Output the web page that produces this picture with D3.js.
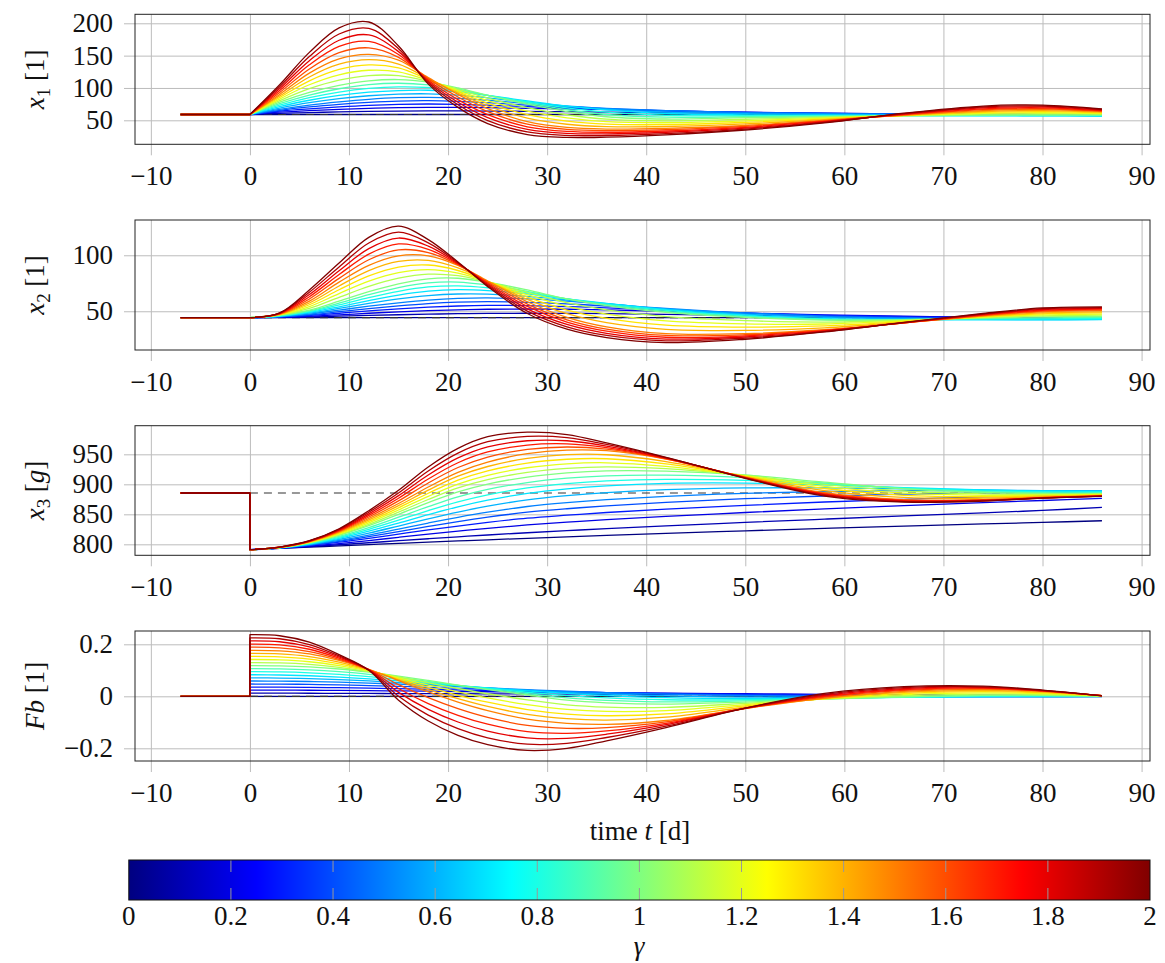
<!DOCTYPE html>
<html><head><meta charset="utf-8">
<script src="https://cdn.jsdelivr.net/npm/d3@7"></script>
<style>
body{margin:0;background:#fff}
svg{display:block}
text{font-family:"Liberation Serif","Times New Roman",serif;fill:#111}
</style>
</head><body>
<svg id="chart" width="1165" height="963"></svg>
<script>
// ---------------- DATA ----------------
const times = [0, 3, 6, 9, 12, 15, 18, 21, 24, 28, 32, 36, 42, 50, 58, 66, 74, 80, 86];
const gammas = [0, 0.1, 0.2, 0.3, 0.4, 0.5, 0.6, 0.7, 0.8, 0.9, 1.0, 1.1, 1.2, 1.3, 1.4, 1.5, 1.6, 1.7, 1.8, 1.9, 2.0];
const tStart = -7;
const xTicks = [-10, 0, 10, 20, 30, 40, 50, 60, 70, 80, 90];
const x1Ticks = [50, 100, 150, 200];
const x2Ticks = [50, 100];
const x3Ticks = [800, 850, 900, 950];
const fbTicks = [-0.2, 0, 0.2];
const fbTickLabels = ["\u22120.2", "0", "0.2"];
const cbTicks = [0, 0.2, 0.4, 0.6, 0.8, 1, 1.2, 1.4, 1.6, 1.8, 2];
const cbTickLabels = ["0", "0.2", "0.4", "0.6", "0.8", "1", "1.2", "1.4", "1.6", "1.8", "2"];

const x1Init = 59, x2Init = 44.3, x3Init = 885.5, fbInit = 0;
const x1Ref = 59, x2Ref = 44.3, x3Ref = 885.5, fbRef = 0;

const x1Values = [
[59,59,59,59,59,59,59,59,59,59,59,59,59,59,59,59,59,59,59],
[59,60.8,62,63,63.8,64.3,64.5,64.5,64.3,63.8,63.3,62.8,61.8,60.8,60,59.5,59.2,58.9,58.6],
[59,62.5,65,67,68.5,69.5,70,70,69.5,68.5,67.5,66.5,64.5,62.5,61,60,59.3,58.8,58.3],
[59,64.2,67.8,70.8,73.2,74.7,75.2,74.7,73.3,71,69,67.2,64.7,62.3,60.8,59.8,59,58.5,58],
[59,65.5,70.7,74.7,77.8,79.8,80.3,79.3,77.2,73.5,70.5,67.8,64.8,62.2,60.7,59.7,58.8,58.2,57.7],
[59,67,73.5,78.5,82.5,85,85.5,84,81,76,72,68.5,65,62,60.5,59.5,58.5,57.8,57.3],
[59,69,77.3,83.5,88,90.5,91,89,84.8,78,72,67.3,62.8,60.3,59.3,58.5,57.8,57.3,57],
[59,71,81,88.5,93.5,96,96.5,94,88.5,80,72,66,60.5,58.5,58,57.5,57,56.8,56.6],
[59,73.3,85,93.7,99.3,101.7,100.7,96,88.5,78.3,69.2,62.5,57.7,57,57.2,57.3,57.3,57.4,57.2],
[59,75.7,89,98.8,105.2,107.3,104.8,98,88.5,76.7,66.3,59,54.8,55.5,56.3,57.2,57.7,57.9,57.9],
[59,78,93,104,111,113,109,100,88.5,75,63.5,55.5,52,54,55.5,57,58,58.5,58.5],
[59,80.4,99,112.2,119.2,119,110.4,98,84.4,69.6,58.6,51.7,49.1,51.6,54.4,57.2,59.4,60.1,59.5],
[59,82.8,105,120.4,127.4,125,111.8,96,80.3,64.2,53.7,47.9,46.2,49.2,53.3,57.4,60.8,61.7,60.5],
[59,85.2,111,128.6,135.6,131,113.2,94,76.2,58.8,48.8,44.1,43.3,46.8,52.2,57.6,62.2,63.3,61.5],
[59,87.6,117,136.8,143.8,137,114.6,92,72.1,53.4,43.9,40.3,40.4,44.4,51.1,57.8,63.6,64.9,62.5],
[59,90,123,145,152,143,116,90,68,48,39,36.5,37.5,42,50,58,65,66.5,63.5],
[59,93,129.4,154.6,162,147.4,114,86,63.4,44,35.9,34,35.5,40.6,49.2,58.6,66.4,67.9,64.3],
[59,96,135.8,164.2,172,151.8,112,82,58.8,40,32.8,31.5,33.5,39.2,48.4,59.2,67.8,69.3,65.1],
[59,99,142.2,173.8,182,156.2,110,78,54.2,36,29.7,29,31.5,37.8,47.6,59.8,69.2,70.7,65.9],
[59,102,148.6,183.4,192,160.6,108,74,49.6,32,26.6,26.5,29.5,36.4,46.8,60.4,70.6,72.1,66.7],
[59,105,155,193,202,165,106,70,45,28,23.5,24,27.5,35,46,61,72,73.5,67.5]
];

const x2Values = [
[44.3,44.3,44.3,44.3,44.3,44.3,44.3,44.3,44.3,44.3,44.3,44.3,44.3,44.3,44.3,44.3,44.3,44.3,44.3],
[44.3,44.5,44.9,45.6,46.3,46.9,47.4,47.8,48.1,48.2,48.1,47.8,47.2,46.3,45.6,45,44.5,44.3,44],
[44.3,44.7,45.5,46.8,48.2,49.5,50.5,51.3,51.8,52,51.8,51.2,50,48.3,46.8,45.6,44.7,44.2,43.8],
[44.3,44.9,46.2,48.2,50.3,52.2,53.7,54.7,55.2,55,54.2,53,50.8,48.4,46.4,45.1,44.1,43.7,43.5],
[44.3,45.1,46.8,49.6,52.4,54.8,56.8,58.1,58.6,58,56.6,54.7,51.7,48.4,45.9,44.5,43.6,43.3,43.1],
[44.3,45.3,47.5,51,54.5,57.5,60,61.5,62,61,59,56.5,52.5,48.5,45.5,44,43,42.8,42.8],
[44.3,45.5,48.3,52.5,57,61,64,65.4,65.3,63.3,60,56.8,52,47.5,44.5,43.3,42.7,42.6,42.7],
[44.3,45.7,49,54,59.5,64.5,68,69.3,68.5,65.5,61,57,51.5,46.5,43.5,42.5,42.3,42.3,42.5],
[44.3,46,49.7,55.7,62.2,67.8,71.7,72.7,71,66.7,61,56.3,50.7,45.8,43,42.5,42.9,43.2,43.5],
[44.3,46.2,50.3,57.3,64.8,71.2,75.3,76.1,73.5,67.8,61,55.7,49.8,45.2,42.5,42.5,43.4,44.1,44.5],
[44.3,46.5,51,59,67.5,74.5,79,79.5,76,69,61,55,49,44.5,42,42.5,44,45,45.5],
[44.3,46.7,52.6,62.4,72.2,79.5,83.1,81.8,76.2,66.9,57.7,51.2,45.2,41.6,40.3,41.9,44.4,45.9,46.5],
[44.3,46.9,54.2,65.8,76.9,84.5,87.2,84.1,76.4,64.8,54.4,47.4,41.4,38.7,38.6,41.3,44.8,46.8,47.5],
[44.3,47.1,55.8,69.2,81.6,89.5,91.3,86.4,76.6,62.7,51.1,43.6,37.6,35.8,36.9,40.7,45.2,47.7,48.5],
[44.3,47.3,57.4,72.6,86.3,94.5,95.4,88.7,76.8,60.6,47.8,39.8,33.8,32.9,35.2,40.1,45.6,48.6,49.5],
[44.3,47.5,59,76,91,99.5,99.5,91,77,58.5,44.5,36,30,30,33.5,39.5,46,49.5,50.5],
[44.3,47.7,61,79.4,96,104.8,102.4,91.6,76,56.4,42.4,34.1,28.4,29,33.1,39.6,46.4,50.2,51.2],
[44.3,47.9,63,82.8,101,110.1,105.3,92.2,75,54.3,40.3,32.2,26.8,28,32.7,39.7,46.8,50.9,51.9],
[44.3,48.1,65,86.2,106,115.4,108.2,92.8,74,52.2,38.2,30.3,25.2,27,32.3,39.8,47.2,51.6,52.6],
[44.3,48.3,67,89.6,111,120.7,111.1,93.4,73,50.1,36.1,28.4,23.6,26,31.9,39.9,47.6,52.3,53.3],
[44.3,48.5,69,93,116,126,114,94,72,48,34,26.5,22,25,31.5,40,48,53,54]
];

const x3Values = [
[791,793.2,795.3,797.4,799.5,801.6,803.6,805.6,807.5,810,812.4,814.8,818.2,822.5,826.5,830.3,834,836.5,839.3],
[791,793.4,796.2,799.3,802.6,806,809.3,812.5,815.5,819.3,822.8,826,830.7,836.5,842,847.5,852.5,856.5,861.5],
[791,793.6,797,801.3,806.3,811.7,817,822,826.7,832.3,837,841,846.5,853,859,864.5,869.5,873,876.5],
[791,793.8,798,803.5,810,817,824,830.5,836.5,843.5,848.5,853,858.5,865,870.5,875,879,881.5,884],
[791,793.9,798.7,805,812.7,821.2,829.8,838,845.3,853.5,859.3,864,869.8,876,880.5,883.5,885.5,886.3,886.8],
[791,794,799.3,806.5,815.5,825.5,835.5,845,853.5,863,869.5,874.5,880,885,888,889.5,889.5,889.2,889],
[791,794.1,799.9,808.2,818.7,830.5,842.5,853.8,863.5,874,881,886,891,894,894,892.5,890.5,889.5,889],
[791,794.3,800.5,810,822,835.5,849.5,862.5,873.5,885,892.5,897.5,901.5,902,899,894.5,890.5,889,888],
[791,794.4,801.2,811.7,825,840.3,856.2,870.8,882.5,894,901.3,905.8,908.3,906.5,900.5,893.8,889.2,887.5,886.8],
[791,794.4,801.8,813.3,828,845.2,862.8,879.2,891.5,903,910.2,914.2,915.2,911,902,893.2,887.8,886,885.7],
[791,794.5,802.5,815,831,850,869.5,887.5,900.5,912,919,922.5,922,915.5,903.5,892.5,886.5,884.5,884.5],
[791,794.6,802.9,816.2,833.4,853.6,874.7,894,907.8,919.8,926.6,929.2,926,914.8,900,888.9,884.1,883.2,883.8],
[791,794.7,803.3,817.4,835.8,857.2,879.9,900.5,915.1,927.6,934.2,935.9,930,914.1,896.5,885.3,881.7,881.9,883.1],
[791,794.8,803.7,818.6,838.2,860.8,885.1,907,922.4,935.4,941.8,942.6,934,913.4,893,881.7,879.3,880.6,882.4],
[791,794.9,804.1,819.8,840.6,864.4,890.3,913.5,929.7,943.2,949.4,949.3,938,912.7,889.5,878.1,876.9,879.3,881.7],
[791,795,804.5,821,843,868,895.5,920,937,951,957,956,942,912,886,874.5,874.5,878,881],
[791,795.1,804.8,822,845.6,872.4,902.2,928,945.5,958.2,962.2,958.6,942.6,911.6,884.9,873.7,874,877.8,880.8],
[791,795.2,805.1,823,848.2,876.8,908.9,936,954,965.4,967.4,961.2,943.2,911.2,883.8,872.9,873.5,877.6,880.6],
[791,795.3,805.4,824,850.8,881.2,915.6,944,962.5,972.6,972.6,963.8,943.8,910.8,882.7,872.1,873,877.4,880.4],
[791,795.4,805.7,825,853.4,885.6,922.3,952,971,979.8,977.8,966.4,944.4,910.4,881.6,871.3,872.5,877.2,880.2],
[791,795.5,806,826,856,890,929,960,979.5,987,983,969,945,910,880.5,870.5,872,877,880]
];

const fbValues = [
[0,0,0,0,0,0,0,0,0,0,0,0,0,0,0,0,0,0,0],
[0.012,0.012,0.0118,0.0115,0.0111,0.0107,0.0103,0.0099,0.0095,0.009,0.0085,0.008,0.0072,0.0062,0.0053,0.0045,0.0038,0.0033,0.0028],
[0.024,0.0238,0.0233,0.0225,0.0216,0.0206,0.0196,0.0186,0.0176,0.0163,0.015,0.0138,0.012,0.0098,0.0078,0.006,0.0045,0.0035,0.0026],
[0.0357,0.0354,0.0345,0.0332,0.0314,0.0293,0.0271,0.0247,0.0224,0.0194,0.0165,0.014,0.0108,0.0075,0.0052,0.0035,0.0023,0.0017,0.0012],
[0.0473,0.0469,0.0458,0.0438,0.0412,0.0381,0.0345,0.0309,0.0272,0.0224,0.018,0.0143,0.0097,0.0053,0.0026,0.001,0.0002,-0.0002,-0.0001],
[0.059,0.0585,0.057,0.0545,0.051,0.0468,0.042,0.037,0.032,0.0255,0.0195,0.0145,0.0085,0.003,0.0,-0.0015,-0.002,-0.002,-0.0015],
[0.071,0.0703,0.068,0.0643,0.059,0.0529,0.046,0.039,0.032,0.0233,0.0153,0.0088,0.0018,-0.003,-0.0035,-0.0028,-0.0015,-0.001,-0.0008],
[0.083,0.082,0.079,0.074,0.067,0.059,0.05,0.041,0.032,0.021,0.011,0.003,-0.005,-0.009,-0.007,-0.004,-0.001,0.0,0.0],
[0.0947,0.0937,0.0903,0.0843,0.0757,0.0653,0.0537,0.0417,0.03,0.0157,0.0023,-0.0063,-0.0133,-0.0133,-0.0083,-0.0033,0.0007,0.0013,0.0003],
[0.1063,0.1053,0.1017,0.0947,0.0843,0.0717,0.0573,0.0423,0.028,0.0103,-0.0063,-0.0157,-0.0217,-0.0177,-0.0097,-0.0027,0.0023,0.0027,0.0007],
[0.118,0.117,0.113,0.105,0.093,0.078,0.061,0.043,0.026,0.005,-0.015,-0.025,-0.03,-0.022,-0.011,-0.002,0.004,0.004,0.001],
[0.1298,0.1286,0.123,0.1116,0.0952,0.0744,0.0522,0.03,0.0098,-0.0136,-0.0328,-0.0416,-0.0426,-0.027,-0.0102,0.0022,0.0086,0.007,0.0014],
[0.1416,0.1402,0.133,0.1182,0.0974,0.0708,0.0434,0.017,-0.0064,-0.0322,-0.0506,-0.0582,-0.0552,-0.032,-0.0094,0.0064,0.0132,0.01,0.0018],
[0.1534,0.1518,0.143,0.1248,0.0996,0.0672,0.0346,0.004,-0.0226,-0.0508,-0.0684,-0.0748,-0.0678,-0.037,-0.0086,0.0106,0.0178,0.013,0.0022],
[0.1652,0.1634,0.153,0.1314,0.1018,0.0636,0.0258,-0.009,-0.0388,-0.0694,-0.0862,-0.0914,-0.0804,-0.042,-0.0078,0.0148,0.0224,0.016,0.0026],
[0.177,0.175,0.163,0.138,0.104,0.06,0.017,-0.022,-0.055,-0.088,-0.104,-0.108,-0.093,-0.047,-0.007,0.019,0.027,0.019,0.003],
[0.189,0.1866,0.172,0.1424,0.1032,0.045,-0.0054,-0.0476,-0.0812,-0.112,-0.1232,-0.1206,-0.0984,-0.0466,-0.0034,0.0226,0.0294,0.02,0.0028],
[0.201,0.1982,0.181,0.1468,0.1024,0.03,-0.0278,-0.0732,-0.1074,-0.136,-0.1424,-0.1332,-0.1038,-0.0462,0.0002,0.0262,0.0318,0.021,0.0026],
[0.213,0.2098,0.19,0.1512,0.1016,0.015,-0.0502,-0.0988,-0.1336,-0.16,-0.1616,-0.1458,-0.1092,-0.0458,0.0038,0.0298,0.0342,0.022,0.0024],
[0.225,0.2214,0.199,0.1556,0.1008,0.0,-0.0726,-0.1244,-0.1598,-0.184,-0.1808,-0.1584,-0.1146,-0.0454,0.0074,0.0334,0.0366,0.023,0.0022],
[0.237,0.233,0.208,0.16,0.1,-0.015,-0.095,-0.15,-0.186,-0.208,-0.2,-0.171,-0.12,-0.045,0.011,0.037,0.039,0.024,0.002]
];

// ---------------- LAYOUT ----------------
const L = 135, R = 1150;
const FS = 27;
const svg = d3.select("#chart");

function jet(v) {
  const c = x => Math.max(0, Math.min(1, x));
  const r = c(1.5 - Math.abs(4 * v - 3));
  const g = c(1.5 - Math.abs(4 * v - 2));
  const b = c(1.5 - Math.abs(4 * v - 1));
  return d3.rgb(r * 255, g * 255, b * 255).toString();
}
const colorOf = d3.scaleLinear().domain([0, 2]).range([0, 1]);

const xScale = d3.scaleLinear().domain([-11.6, 90.85]).range([L, R]);
const fmtNum = v => (v < 0 ? "\u2212" + Math.abs(v) : String(v));

const panels = [
  {top: 14.3, bottom: 144.3, domain: [12.9, 213.9], ticks: x1Ticks, tickLabels: x1Ticks.map(fmtNum),
   init: x1Init, ref: x1Ref, values: x1Values,
   label: [{t: "x", it: true}, {t: "1", sub: true}, {t: " [1]"}]},
  {top: 220, bottom: 350, domain: [15.4, 131.5], ticks: x2Ticks, tickLabels: x2Ticks.map(fmtNum),
   init: x2Init, ref: x2Ref, values: x2Values,
   label: [{t: "x", it: true}, {t: "2", sub: true}, {t: " [1]"}]},
  {top: 425.7, bottom: 555.3, domain: [781.7, 997.7], ticks: x3Ticks, tickLabels: x3Ticks.map(fmtNum),
   init: x3Init, ref: x3Ref, values: x3Values,
   label: [{t: "x", it: true}, {t: "3", sub: true}, {t: " ["}, {t: "g", it: true}, {t: "]"}]},
  {top: 631, bottom: 761, domain: [-0.2488, 0.2512], ticks: fbTicks, tickLabels: fbTickLabels,
   init: fbInit, ref: fbRef, values: fbValues,
   label: [{t: "Fb", it: true}, {t: " [1]"}]}
];

const defs = svg.append("defs");

panels.forEach((p, pi) => {
  const y = d3.scaleLinear().domain(p.domain).range([p.bottom, p.top]);
  const g = svg.append("g");
  const h = p.bottom - p.top;

  const gx = g.append("g").attr("transform", `translate(0,${p.bottom + 11})`)
    .call(d3.axisBottom(xScale).tickValues(xTicks).tickSizeInner(-(h + 11)).tickSizeOuter(0)
      .tickPadding(11).tickFormat(fmtNum));
  gx.select(".domain").remove();
  gx.selectAll(".tick line").attr("stroke", "#bcbcbc").attr("stroke-width", 1);
  gx.selectAll(".tick text").attr("font-size", FS).attr("font-family", "Liberation Serif").attr("fill", "#111");

  const gy = g.append("g").attr("transform", `translate(${L - 11},0)`)
    .call(d3.axisLeft(y).tickValues(p.ticks).tickSizeInner(-(R - L + 11)).tickSizeOuter(0)
      .tickPadding(11).tickFormat((d, i) => p.tickLabels[i]));
  gy.select(".domain").remove();
  gy.selectAll(".tick line").attr("stroke", "#bcbcbc").attr("stroke-width", 1);
  gy.selectAll(".tick text").attr("font-size", FS).attr("font-family", "Liberation Serif").attr("fill", "#111");

  const cid = "clip" + pi;
  defs.append("clipPath").attr("id", cid).append("rect")
    .attr("x", L).attr("y", p.top).attr("width", R - L).attr("height", h);
  const plot = g.append("g").attr("clip-path", `url(#${cid})`);

  const curveLine = d3.line().x(d => xScale(d[0])).y(d => y(d[1])).curve(d3.curveCatmullRom.alpha(0.5));
  const straight = d3.line().x(d => xScale(d[0])).y(d => y(d[1]));

  const drawCurve = (i) => {
    const vals = p.values[i];
    const pts = times.map((t, j) => [t, vals[j]]);
    const pre = `M${xScale(tStart)},${y(p.init)}L${xScale(0)},${y(p.init)}`;
    const d = pre + curveLine(pts).replace(/^M/, "L");
    plot.append("path").attr("d", d).attr("fill", "none")
      .attr("stroke", jet(colorOf(gammas[i]))).attr("stroke-width", 1.3)
      .attr("stroke-linejoin", "round");
  };

  drawCurve(0);
  plot.append("path")
    .attr("d", straight([[0, p.ref], [times[times.length - 1], p.ref]]))
    .attr("fill", "none").attr("stroke", "#333").attr("stroke-width", 1.2)
    .attr("stroke-dasharray", "8,6");
  for (let i = 1; i < gammas.length; i++) drawCurve(i);

  g.append("rect").attr("x", L).attr("y", p.top).attr("width", R - L).attr("height", h)
    .attr("fill", "none").attr("stroke", "#222").attr("stroke-width", 1);

  const cy = (p.top + p.bottom) / 2;
  const t = g.append("text").attr("transform", `translate(44,${cy}) rotate(-90)`)
    .attr("text-anchor", "middle").attr("font-size", FS);
  let shifted = false;
  p.label.forEach(part => {
    const s = t.append("tspan").text(part.t);
    if (part.it) s.attr("font-style", "italic");
    if (part.sub) { s.attr("font-size", FS * 0.7).attr("dy", 6); shifted = true; }
    else if (shifted) { s.attr("dy", -6); shifted = false; }
  });
});

const xt = svg.append("text").attr("x", 640).attr("y", 840).attr("text-anchor", "middle").attr("font-size", FS);
xt.append("tspan").text("time ");
xt.append("tspan").attr("font-style", "italic").text("t");
xt.append("tspan").text(" [d]");

// ---------------- COLORBAR ----------------
const cbX0 = 128.8, cbX1 = 1150, cbY0 = 860, cbY1 = 900;
const cbScale = d3.scaleLinear().domain([0, 2]).range([cbX0, cbX1]);
const grad = defs.append("linearGradient").attr("id", "jetgrad").attr("x1", "0%").attr("x2", "100%").attr("y1", "0%").attr("y2", "0%");
[0, 0.125, 0.375, 0.625, 0.875, 1].forEach(s => {
  grad.append("stop").attr("offset", (s * 100) + "%").attr("stop-color", jet(s));
});
svg.append("rect").attr("x", cbX0).attr("y", cbY0).attr("width", cbX1 - cbX0).attr("height", cbY1 - cbY0)
  .attr("fill", "url(#jetgrad)");
const inner = cbTicks.filter(v => v > 0 && v < 2);
svg.selectAll(".cbt1").data(inner).enter().append("line")
  .attr("x1", d => cbScale(d)).attr("x2", d => cbScale(d)).attr("y1", cbY0).attr("y2", cbY0 + 12)
  .attr("stroke", "#999").attr("stroke-width", 1);
svg.selectAll(".cbt2").data(inner).enter().append("line")
  .attr("x1", d => cbScale(d)).attr("x2", d => cbScale(d)).attr("y1", cbY1 - 12).attr("y2", cbY1)
  .attr("stroke", "#999").attr("stroke-width", 1);
svg.append("rect").attr("x", cbX0).attr("y", cbY0).attr("width", cbX1 - cbX0).attr("height", cbY1 - cbY0)
  .attr("fill", "none").attr("stroke", "#111").attr("stroke-width", 1);
svg.selectAll(".cbl").data(cbTicks).enter().append("text")
  .attr("x", d => cbScale(d)).attr("y", 925).attr("text-anchor", "middle").attr("font-size", FS)
  .text((d, i) => cbTickLabels[i]);
svg.append("text").attr("x", 639).attr("y", 955).attr("text-anchor", "middle").attr("font-size", FS)
  .attr("font-style", "italic").text("\u03b3");
</script>
</body></html>
